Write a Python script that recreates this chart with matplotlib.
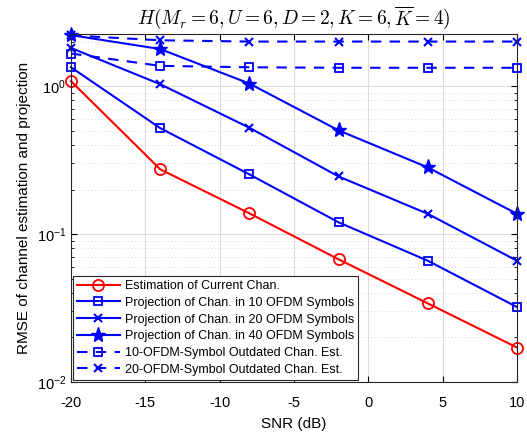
import numpy as np
import matplotlib
matplotlib.use('Agg')
import matplotlib.pyplot as plt
import matplotlib.ticker as ticker

plt.rcParams['font.family'] = ['Liberation Sans', 'DejaVu Sans']
plt.rcParams['mathtext.fontset'] = 'cm'

snr = [-20, -14, -8, -2, 4, 10]
est_current = [1.08, 0.274, 0.138, 0.0675, 0.034, 0.0171]
proj_10 = [1.34, 0.52, 0.253, 0.12, 0.066, 0.0321]
proj_20 = [1.81, 1.03, 0.523, 0.245, 0.137, 0.066]
proj_40 = [2.21, 1.78, 1.04, 0.502, 0.282, 0.137]
outdated_10 = [1.66, 1.37, 1.34, 1.33, 1.33, 1.33]
outdated_20 = [2.2, 2.04, 2.0, 2.0, 2.0, 2.0]

labels = ['Estimation of Current Chan.',
          'Projection of Chan. in 10 OFDM Symbols',
          'Projection of Chan. in 20 OFDM Symbols',
          'Projection of Chan. in 40 OFDM Symbols',
          '10-OFDM-Symbol Outdated Chan. Est.',
          '20-OFDM-Symbol Outdated Chan. Est.']

fig = plt.figure(figsize=(5.27, 4.34), dpi=100)
ax = fig.add_axes([0.1347, 0.1198, 0.8463, 0.8019])

blue = '#0000ff'
kw = dict(lw=1.5, clip_on=False)
ax.plot(snr, est_current, '-o', color='red', ms=8, mfc='none', mew=1.3, label=labels[0], **kw)
ax.plot(snr, proj_10, '-s', color=blue, ms=6, mfc='none', mew=1.3, label=labels[1], **kw)
ax.plot(snr, proj_20, '-x', color=blue, ms=6, mew=1.5, label=labels[2], **kw)
ax.plot(snr, proj_40, '-*', color=blue, ms=11, label=labels[3], **kw)
ax.plot(snr, outdated_10, '--s', color=blue, ms=6, mfc='none', mew=1.3,
        dashes=(5, 4), label=labels[4], **kw)
ax.plot(snr, outdated_20, '--x', color=blue, ms=6, mew=1.5,
        dashes=(5, 4), label=labels[5], **kw)

ax.set_yscale('log')
ax.set_xlim(-20, 10)
ax.set_ylim(0.01, 2.25)
ax.set_xticks([-20, -15, -10, -5, 0, 5, 10])
ax.xaxis.set_major_formatter(ticker.FuncFormatter(lambda v, p: '%d' % v))
ax.yaxis.set_major_locator(ticker.LogLocator(base=10))
ax.yaxis.set_minor_locator(ticker.LogLocator(base=10, subs=np.arange(2, 10)))
ax.yaxis.set_minor_formatter(ticker.NullFormatter())

ax.grid(True, which='major', color='#dcdcdc', lw=0.8)
ax.grid(True, which='minor', axis='y', color='#c8c8c8', ls=(0, (1, 3)), lw=0.6)
ax.set_axisbelow(True)
ax.tick_params(which='both', direction='in', top=True, right=True, labelsize=10.5)
ax.tick_params(axis='x', which='major', pad=10)
ax.tick_params(which='major', length=4)
ax.tick_params(which='minor', length=2)
for s in ax.spines.values():
    s.set_color('#262626')

ax.set_xlabel('SNR (dB)', fontsize=11, labelpad=5)
ax.set_ylabel('RMSE of channel estimation and projection', fontsize=11)
ax.set_title(r'$H(M_r=6,U=6,D=2,K=6,\overline{K}=4)$', fontsize=14, pad=7)

leg = ax.legend(loc='lower left', fontsize=9, fancybox=False, edgecolor='#262626',
                framealpha=1, borderpad=0.3, labelspacing=0.38, handlelength=3.4,
                handletextpad=0.4, borderaxespad=0.2)
leg.get_frame().set_linewidth(0.8)

fig.savefig('out.png', dpi=100)
